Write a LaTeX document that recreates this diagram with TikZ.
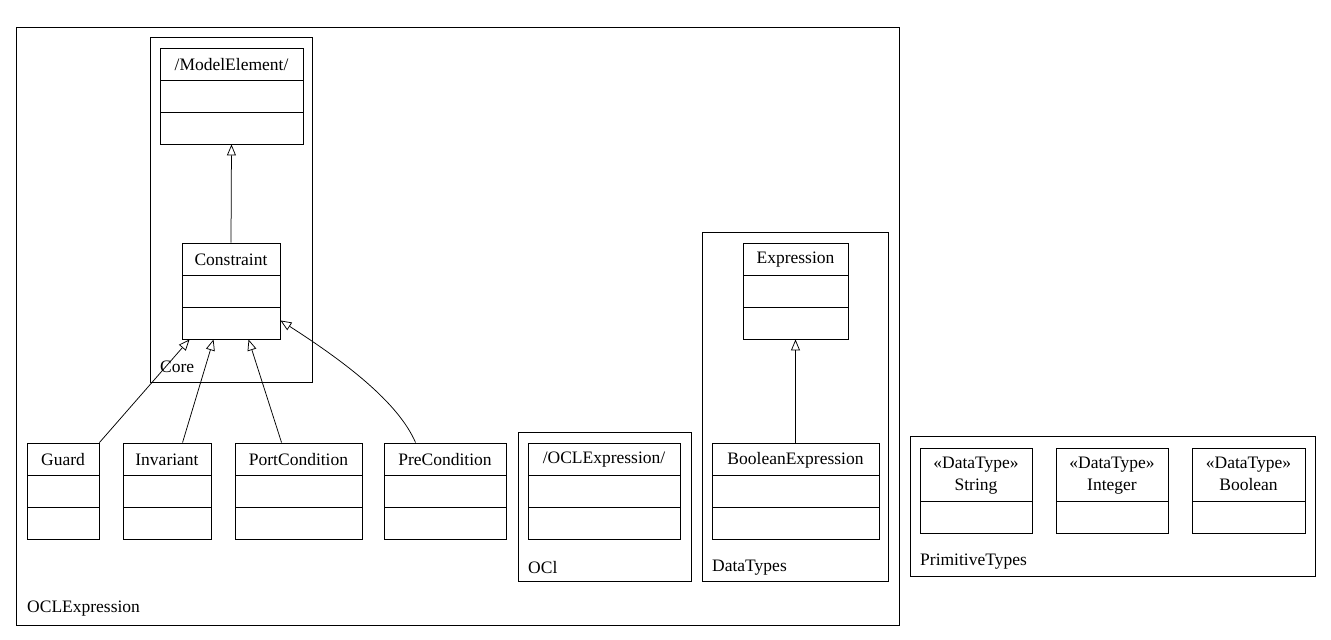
\documentclass[tikz,border=0pt]{standalone}
\usepackage{fontspec}
\setmainfont{Liberation Serif}
\usetikzlibrary{arrows.meta,fit}
\tikzset{
  box/.style={draw, inner sep=0pt, line width=0.9pt},
  pkg/.style={draw, inner sep=0pt, line width=0.9pt},
  lbl/.style={font=\fontsize{17.5}{22}\selectfont, inner sep=0pt},
  gen/.style={-{Triangle[open,length=11pt,width=9pt]}, line width=0.75pt},
}
% class with name, attribute and operation compartments
\newcommand\classbox[6]{%
  \node[box, fit={(#2,#3)(#4,#5)}] (#1) {};
  \draw[line width=0.9pt] (#2,#3+32) -- (#4,#3+32) (#2,#3+64) -- (#4,#3+64);
  \node[lbl] at ({(#2+#4)/2},#3+17) {#6};
}
% stereotyped data type with name and one compartment
\newcommand\typebox[6]{%
  \node[box, fit={(#2,#3)(#4,#5)}] (#1) {};
  \draw[line width=0.9pt] (#2,#3+53) -- (#4,#3+53);
  \node[lbl, align=center] at ({(#2+#4)/2},#3+27) {\strut«DataType»\\#6\strut};
}
\begin{document}
\begin{tikzpicture}[x=1pt, y=-1pt]
\useasboundingbox (0,0) rectangle (1331,640);

% packages
\node[pkg, fit={(16,27)(899,625)}] (oclpkg) {};
\node[lbl, anchor=west] (oclpkglbl) at (27,609) {OCLExpression};
\node[pkg, fit={(150,37)(312,382)}] (core) {};
\node[lbl, anchor=west] (corelbl) at (160,367) {Core};
\node[pkg, fit={(518,432)(691,581)}] (oclsub) {};
\node[lbl, anchor=west] (oclsublbl) at (528,568) {OCl};
\node[pkg, fit={(702,232)(888,581)}] (datatypes) {};
\node[lbl, anchor=west] (datatypeslbl) at (712,568) {DataTypes};
\node[pkg, fit={(910,436)(1315,576)}] (primtypes) {};
\node[lbl, anchor=west] (primtypeslbl) at (920,562) {PrimitiveTypes};

% classes
\classbox{modelel}{160}{48}{303}{144}{/ModelElement/}
\classbox{constraint}{182}{243}{280}{339}{Constraint}
\classbox{guard}{27}{443}{99}{539}{Guard}
\classbox{invariant}{123}{443}{211}{539}{Invariant}
\classbox{portcond}{235}{443}{362}{539}{PortCondition}
\classbox{precond}{384}{443}{506}{539}{PreCondition}
\classbox{oclexpr}{528}{443}{680}{539}{/OCLExpression/}
\classbox{expression}{743}{243}{848}{339}{Expression}
\classbox{boolexpr}{712}{443}{879}{539}{BooleanExpression}

% primitive data types
\typebox{string}{920}{448}{1032}{533}{String}
\typebox{integer}{1056}{448}{1168}{533}{Integer}
\typebox{boolean}{1192}{448}{1305}{533}{Boolean}

% generalizations
\draw[gen] (constraint.north) -- (modelel.south);
\draw[gen] (guard.north east) -- ([xshift=8pt]constraint.south west);
\draw[gen] ([xshift=60pt]invariant.north west) -- ([xshift=32pt]constraint.south west);
\draw[gen] ([xshift=47pt]portcond.north west) -- ([xshift=67pt]constraint.south west);
\draw[gen] ([xshift=32pt]precond.north west) .. controls (398,402) and (345,362) .. ([yshift=19pt]constraint.south east);
\draw[gen] (boolexpr.north) -- (expression.south);
\end{tikzpicture}
\end{document}
